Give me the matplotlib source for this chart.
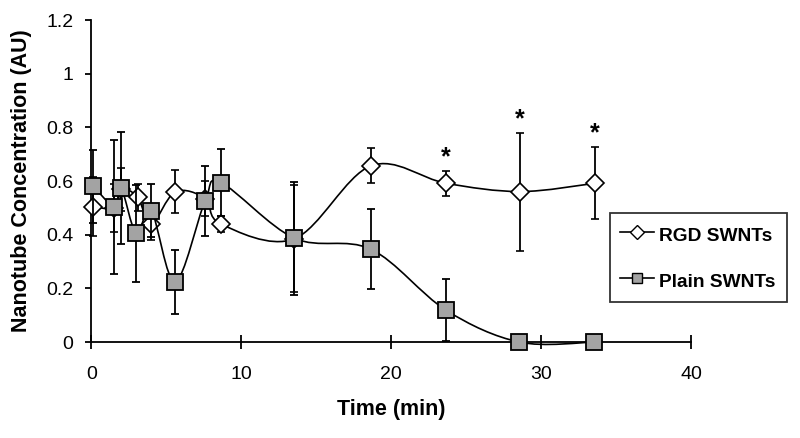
import numpy as np
import matplotlib
matplotlib.use("Agg")
import matplotlib.pyplot as plt
from matplotlib.path import Path
from matplotlib.patches import PathPatch
from matplotlib.lines import Line2D

plt.rcParams['font.family'] = ['Liberation Sans', 'DejaVu Sans']

# RGD SWNTs (open diamonds)
rgd_t = [0.15, 1.55, 2.0, 3.1, 4.0, 5.6, 7.6, 8.65, 13.55, 18.65, 23.65, 28.6, 33.6]
rgd_y = [0.505, 0.50, 0.57, 0.54, 0.44, 0.56, 0.535, 0.44, 0.385, 0.657, 0.592, 0.561, 0.592]
rgd_err = [0.11, 0.09, 0.08, 0.05, 0.06, 0.08, 0.065, 0.03, 0.20, 0.065, 0.047, 0.22, 0.135]

# Plain SWNTs (grey squares)
plain_t = [0.15, 1.55, 2.0, 3.0, 4.0, 5.6, 7.6, 8.65, 13.55, 18.65, 23.65, 28.55, 33.55]
plain_y = [0.58, 0.505, 0.574, 0.405, 0.49, 0.225, 0.527, 0.594, 0.387, 0.346, 0.119, 0.0, 0.0]
plain_err = [0.135, 0.25, 0.21, 0.18, 0.10, 0.12, 0.13, 0.125, 0.21, 0.15, 0.115, 0.0, 0.0]

# significant RGD points (index into rgd arrays)
star_idx = [10, 11, 12]


def smooth_path(x, y):
    # excel-like smoothed line through the points (bezier segments)
    pts = np.column_stack([x, y])
    n = len(pts)
    verts = [pts[0]]
    codes = [Path.MOVETO]
    for i in range(n - 1):
        p0 = pts[max(i - 1, 0)]
        p1 = pts[i]
        p2 = pts[i + 1]
        p3 = pts[min(i + 2, n - 1)]
        verts += [p1 + (p2 - p0) / 6, p2 - (p3 - p1) / 6, p2]
        codes += [Path.CURVE4] * 3
    return Path(verts, codes)


fig = plt.figure(figsize=(8, 4.38), dpi=100)
ax = fig.add_axes([0.114, 0.219, 0.75, 0.735])

# RGD series
ax.add_patch(PathPatch(smooth_path(rgd_t, rgd_y), fill=False, ec='black',
                       lw=1.2, clip_on=False, zorder=2))
eb1 = ax.errorbar(rgd_t, rgd_y, yerr=rgd_err, fmt='D', ms=9.5, mfc='white',
                  mec='black', mew=1.2, ecolor='black', elinewidth=1.3,
                  capsize=3, capthick=1.3, zorder=3)

# Plain series
ax.add_patch(PathPatch(smooth_path(plain_t, plain_y), fill=False, ec='black',
                       lw=1.2, clip_on=False, zorder=4))
eb2 = ax.errorbar(plain_t, plain_y, yerr=plain_err, fmt='s', ms=11, mfc='#a3a3a3',
                  mec='black', mew=1.3, ecolor='black', elinewidth=1.3,
                  capsize=3, capthick=1.3, zorder=5)

for eb in (eb1, eb2):
    for art in eb.get_children():
        art.set_clip_on(False)

for i in star_idx:
    ax.annotate('*', (rgd_t[i], rgd_y[i] + rgd_err[i]), xytext=(0, 1),
                textcoords='offset points', ha='center', va='bottom',
                fontsize=18, fontweight='bold')

ax.set_xlim(0, 40)
ax.set_ylim(0, 1.2)
ax.set_xticks([0, 10, 20, 30, 40])
ax.set_yticks([0, 0.2, 0.4, 0.6, 0.8, 1.0, 1.2])
ax.set_yticklabels(['0', '0.2', '0.4', '0.6', '0.8', '1', '1.2'])
for s in ['top', 'right']:
    ax.spines[s].set_visible(False)
for s in ['left', 'bottom']:
    ax.spines[s].set_linewidth(1.3)
ax.tick_params(axis='x', direction='inout', length=10, width=1.3, labelsize=14, pad=12.5)
ax.tick_params(axis='y', direction='out', length=4.5, width=1.3, labelsize=14, pad=8.5)

ax.set_xlabel('Time (min)', fontsize=15.5, fontweight='bold', labelpad=11)
ax.set_ylabel('Nanotube Concentration (AU)', fontsize=15.5, fontweight='bold', labelpad=10)

handles = [
    Line2D([], [], color='black', lw=1.2, marker='D', ms=7, mfc='white', mec='black'),
    Line2D([], [], color='black', lw=1.2, marker='s', ms=7.5, mfc='#a3a3a3', mec='black'),
]
leg = fig.legend(handles, ['RGD SWNTs', 'Plain SWNTs'],
                 bbox_to_anchor=(0.7625, 0.292, 0.221, 0.240), loc='center',
                 mode='expand', borderaxespad=0, fontsize=13.8,
                 handlelength=1.8, handleheight=1.46, handletextpad=0.26,
                 labelspacing=1.2, borderpad=0.52, fancybox=False, frameon=True)
leg.get_frame().set_edgecolor('black')
leg.get_frame().set_linewidth(1.3)
for t in leg.get_texts():
    t.set_fontweight('bold')

fig.savefig('out.png', dpi=100)
